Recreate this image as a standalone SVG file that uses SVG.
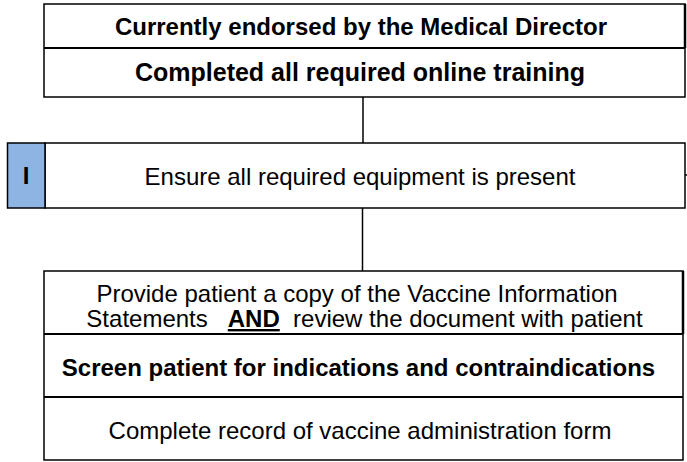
<svg xmlns="http://www.w3.org/2000/svg" width="687" height="462" viewBox="0 0 687 462">
<style>
.box{fill:#fff;stroke:#000;stroke-width:1.5}
.div{stroke:#000;stroke-width:2}
.edge{stroke:#000;stroke-width:2.5}
.con{stroke:#000;stroke-width:1.5;fill:none}
text{font-family:"Liberation Sans",Arial,sans-serif;font-size:24px;fill:#000}
.b{font-weight:bold}
.c{text-anchor:middle}
</style>
<rect width="687" height="462" fill="#fff"/>
<g id="connectors">
<line class="con" x1="363" y1="97" x2="363" y2="143"/>
<line class="con" x1="362.5" y1="208" x2="362.5" y2="271"/>
<line class="con" x1="685" y1="175" x2="687" y2="175"/>
</g>
<g id="node-requirements">
<rect class="box" x="44" y="4" width="641" height="93"/>
<line class="edge" x1="685" y1="4" x2="685" y2="48"/>
<line class="div" x1="44" y1="48" x2="685" y2="48"/>
<text class="b c" x="361" y="35">Currently endorsed by the Medical Director</text>
<text class="b c" x="360" y="81" style="font-size:25px">Completed all required online training</text>
</g>
<g id="node-equipment">
<rect class="box" x="45" y="143" width="640" height="65"/>
<rect x="7.5" y="143" width="37.5" height="65" fill="#8EB4E3" stroke="#000" stroke-width="1.5"/>
<text class="b c" x="26" y="184">I</text>
<text class="c" x="360" y="185">Ensure all required equipment is present</text>
</g>
<g id="node-administration">
<rect class="box" x="44" y="271" width="639" height="189"/>
<line class="edge" x1="683" y1="271" x2="683" y2="334"/>
<line class="div" x1="44" y1="334" x2="683" y2="334"/>
<line class="div" x1="44" y1="397" x2="683" y2="397"/>
<text class="c" x="357" y="302">Provide patient a copy of the Vaccine Information</text>
<text class="c" x="364.5" y="327" style="white-space:pre">Statements   <tspan class="b" text-decoration="underline">AND</tspan>  review the document with patient</text>
<text class="b c" x="358.5" y="376">Screen patient for indications and contraindications</text>
<text class="c" x="360" y="439">Complete record of vaccine administration form</text>
</g>
</svg>
